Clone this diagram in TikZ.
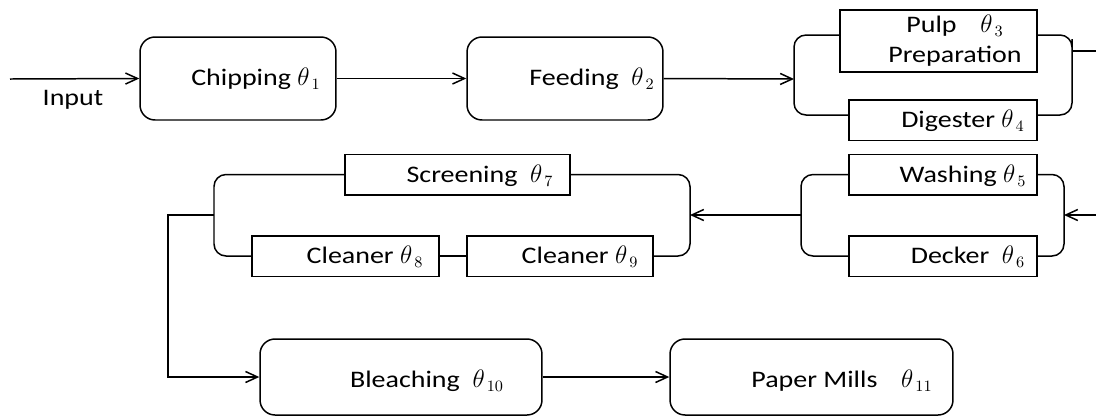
\documentclass[tikz,border=0pt]{standalone}
\usepackage{fontspec}
\setmainfont{Carlito}[FakeStretch=1.18]
\usepackage{amsmath}
\usepackage{tikz}
\usetikzlibrary{arrows.meta}
\newcommand{\stagefont}{\fontsize{13.5}{17}\selectfont}
\tikzset{
  stage/.style={
    draw,
    rounded corners=0.3cm,
    minimum width=3.92cm,
    minimum height=1.66cm,
    inner sep=0pt
  },
  unit/.style={
    draw,
    rectangle,
    minimum width=3.76cm,
    minimum height=0.81cm,
    inner sep=0pt
  },
  tag/.style={
    font=\stagefont,
    inner sep=0pt,
    align=center
  },
  flow/.style={
    -{Straight Barb[length=2.4mm,width=2.2mm]}
  },
  branch/.style={
    rounded corners=0.24cm
  }
}
\begin{document}
\begin{tikzpicture}[line width=0.85pt, x=0.02cm, y=-0.02cm]
  \useasboundingbox (0,0) rectangle (1096,417);

  % first row
  \node[stage] (chip) at (238,78.5) {};
  \node[stage] (feed) at (565,78.5) {};
  \node[unit, minimum width=3.94cm, minimum height=1.24cm] (pulp) at (938.5,41) {};
  \node[unit] (dig) at (943,120) {};

  \node[tag] (chiptag) at (256,79) {Chipping $\theta_{\,1}$};
  \node[tag] (feedtag) at (592,79) {Feeding\ \ $\theta_{\,2}$};
  \node[tag] (pulptag) at (955,41) {Pulp\quad $\theta_{\,3}$\\Preparation};
  \node[tag] (digtag) at (963,121) {Digester $\theta_{\,4}$};
  \node[tag] (input) at (73,100) {Input};

  \coordinate (in0) at (10,79);
  \coordinate (j1) at (794,79);
  \coordinate (j2) at (1072,51);
  \coordinate (out1) at (1096,51);

  \draw[flow] (in0) -- (chip.west);
  \draw[flow] (chip.east) -- (feed.west);
  \draw[flow] (feed.east) -- (j1);
  \draw[branch] ([yshift=0.12cm]pulp.west) -| (j1) |- ([yshift=0.1cm]dig.west);
  \draw[branch] ([yshift=0.12cm]pulp.east) -| (j2) |- ([yshift=0.1cm]dig.east);
  \draw (j2) -- (out1);

  % second row
  \node[unit] (wash) at (943,174.5) {};
  \node[unit] (deck) at (943,256) {};
  \node[unit, minimum width=4.5cm] (screen) at (457.5,174.5) {};
  \node[unit, minimum width=3.74cm] (clean8) at (345.5,256) {};
  \node[unit, minimum width=3.72cm] (clean9) at (560,256) {};

  \node[tag] (washtag) at (963,176) {Washing $\theta_{\,5}$};
  \node[tag] (decktag) at (968,257) {Decker\ \ $\theta_{\,6}$};
  \node[tag] (screentag) at (480,176) {Screening\ \ $\theta_{\,7}$};
  \node[tag] (clean8tag) at (365,257) {Cleaner $\theta_{\,8}$};
  \node[tag] (clean9tag) at (580,257) {Cleaner $\theta_{\,9}$};

  \coordinate (in2) at (1096,215);
  \coordinate (j3) at (1064,215);
  \coordinate (j4) at (801,215);
  \coordinate (j5) at (690,215);
  \coordinate (j6) at (214,215);
  \coordinate (c1) at (168,215);

  \draw[flow] (in2) -- (j3);
  \draw[branch] (wash.east) -| (j3) |- (deck.east);
  \draw[branch] (wash.west) -| (j4) |- (deck.west);
  \draw[flow] (j4) -- (j5);
  \draw[branch] (screen.east) -| (j5) |- (clean9.east);
  \draw[branch] (screen.west) -| (j6) |- (clean8.west);
  \draw (clean8.east) -- (clean9.west);

  % third row
  \node[stage, minimum width=5.64cm, minimum height=1.52cm] (bleach) at (401,377) {};
  \node[stage, minimum width=5.66cm, minimum height=1.52cm] (mill) at (811.5,377) {};

  \node[tag] (bleachtag) at (427,381) {Bleaching\ \ $\theta_{\,10}$};
  \node[tag] (milltag) at (842,381) {Paper Mills\quad $\theta_{\,11}$};

  \draw[flow] (j6) -- (c1) |- (bleach.west);
  \draw[flow] (bleach.east) -- (mill.west);
\end{tikzpicture}
\end{document}
